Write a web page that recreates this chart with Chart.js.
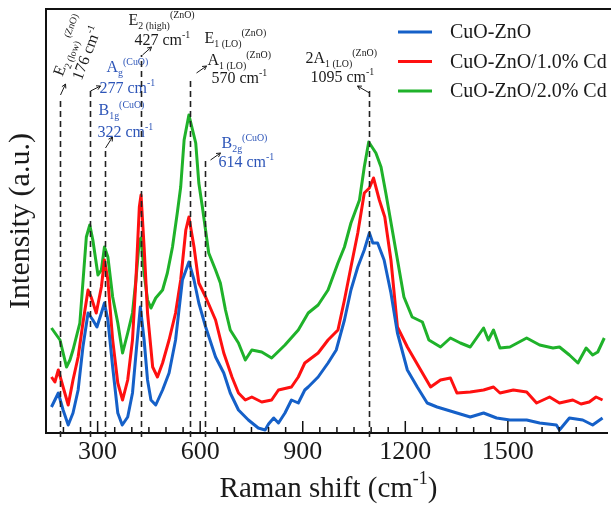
<!DOCTYPE html>
<html>
<head>
<meta charset="utf-8">
<script src="https://cdn.jsdelivr.net/npm/chart.js@4.4.1/dist/chart.umd.min.js"></script>
<style>html,body{margin:0;padding:0;background:#fff;overflow:hidden}canvas{display:block}</style>
</head>
<body>
<canvas id="c" width="611" height="507"></canvas>
<script>
// Raman spectra (x: Raman shift cm-1, y: intensity a.u.)
const seriesNames=["CuO-ZnO","CuO-ZnO/1.0% Cd","CuO-ZnO/2.0% Cd"];
const shiftBlue=[165,185,199,214,228,243,257,272,286,298,311,320,330,344,359,372,388,402,414,425,436,446,456,470,490,509,528,548,567,582,596,616,645,669,688,712,741,770,790,800,815,829,848,867,887,906,916,945,974,998,1022,1041,1061,1080,1095,1105,1119,1138,1158,1177,1206,1235,1264,1293,1322,1351,1390,1429,1467,1506,1555,1593,1642,1651,1680,1719,1748,1777];
const intBlue=[26,40,23,8,20,43,86,120,113,106,120,130,113,66,20,8,16,40,86,126,93,53,33,28,43,60,93,153,171,153,130,106,76,60,40,23,13,5,3,9,15,10,20,33,30,43,46,56,70,83,113,143,166,183,200,190,190,173,140,100,63,46,30,26,23,20,16,20,15,13,13,10,8,3,15,13,8,15];
const shiftRed=[165,175,185,199,214,228,243,257,272,281,296,311,320,330,344,359,373,388,402,412,422,427,436,446,461,475,490,509,528,543,558,567,582,596,616,645,669,693,712,732,751,780,809,829,867,887,906,945,974,1003,1022,1041,1061,1080,1095,1107,1124,1140,1158,1177,1206,1245,1274,1303,1332,1351,1390,1429,1458,1477,1516,1555,1584,1622,1651,1690,1714,1738,1758,1777];
const intRed=[56,51,63,46,28,53,76,110,143,136,120,146,173,153,93,50,33,53,93,153,226,238,186,120,66,56,70,93,120,153,203,216,186,150,136,113,80,56,40,33,36,31,33,43,46,56,70,80,93,103,133,166,200,240,245,255,233,216,173,106,86,63,46,53,55,40,41,43,46,40,43,41,30,36,30,33,29,31,36,33];
const shiftGreen=[165,190,209,219,228,248,267,277,286,301,311,320,330,344,359,373,388,402,412,422,427,436,446,456,470,490,504,519,533,543,553,567,587,596,606,625,645,659,674,688,712,732,751,780,809,848,887,916,945,974,1003,1022,1041,1066,1080,1093,1114,1129,1143,1167,1196,1220,1250,1269,1303,1332,1361,1390,1429,1443,1458,1477,1506,1555,1593,1632,1651,1680,1705,1729,1748,1763,1782];
const intGreen=[105,93,66,73,83,110,196,208,193,158,163,186,176,136,110,80,100,120,153,193,195,160,133,125,135,143,160,186,220,246,293,318,290,250,227,180,163,150,123,103,90,73,83,81,75,88,103,120,128,143,170,186,210,233,266,291,280,266,240,193,136,116,111,93,86,95,90,86,105,93,103,85,86,95,88,85,86,78,70,85,78,81,95];
const xTickLabels=[300,600,900,1200,1500];
// dashed marker lines: where they sit on the axis, and the band they label
const markPos=[191,277,322,427,570,614,1095];
const markName=["176","277","322","427","570","614","1095"];

const FONT='"Times New Roman","Liberation Serif",serif';
const BLUE_TXT="#2d55b8", INK="#1a1a1a";
const pts=(xs,ys)=>xs.map((x,i)=>({x,y:ys[i]}));

function rich(ctx,x,y,parts,size,color){
  let cx=x; ctx.fillStyle=color; ctx.textBaseline="alphabetic"; ctx.textAlign="left";
  for(const [t,k] of parts){
    const s=k?size*0.62:size; ctx.font=`${s}px ${FONT}`;
    const dy=k==="b"?size*0.28:k==="p"?-size*0.45:0;
    ctx.fillText(t,cx,y+dy); cx+=ctx.measureText(t).width;
  }
  return cx;
}
function arrow(ctx,x0,y0,x1,y1){
  ctx.save(); ctx.strokeStyle=INK; ctx.lineWidth=1; ctx.setLineDash([]);
  ctx.beginPath(); ctx.moveTo(x0,y0); ctx.lineTo(x1,y1); ctx.stroke();
  const a=Math.atan2(y1-y0,x1-x0), h=4.5;
  ctx.beginPath(); ctx.moveTo(x1-h*Math.cos(a-0.5),y1-h*Math.sin(a-0.5)); ctx.lineTo(x1,y1);
  ctx.lineTo(x1-h*Math.cos(a+0.5),y1-h*Math.sin(a+0.5)); ctx.stroke(); ctx.restore();
}
const cm=n=>[[n+" cm"],["-1","p"]];
// label layout per marker: dx from the marker line, baseline y, line top, arrow
const notes=[
  {top:97, arr:[0,95,5,84], rot:-69, lines:[{dx:2,y:77,c:INK,p:[["E"],["2 (low)","b"],["(ZnO)","p"]]},{dx:21,y:81,c:INK,p:cm(markName[0])}]},
  {top:89, arr:[0,91,10,86], lines:[{dx:16,y:72,c:BLUE_TXT,p:[["A"],["g","b"],["(CuO)","p"]]},{dx:9,y:93,c:BLUE_TXT,p:cm(markName[1])}]},
  {top:149, arr:[0,148,7,137], lines:[{dx:-7,y:115,c:BLUE_TXT,p:[["B"],["1g","b"],["(CuO)","p"]]},{dx:-8,y:137,c:BLUE_TXT,p:cm(markName[2])}]},
  {top:55, arr:[1,55,10,47], lines:[{dx:-13,y:25,c:INK,p:[["E"],["2 (high)","b"],["(ZnO)","p"]]},{dx:-7,y:45,c:INK,p:cm(markName[3])}]},
  {top:80, arr:[6,73,16,66], lines:[{dx:14,y:43,c:INK,p:[["E"],["1 (LO)","b"],["(ZnO)","p"]]},{dx:17,y:65,c:INK,p:[["A"],["1 (LO)","b"],["(ZnO)","p"]]},{dx:21,y:83,c:INK,p:cm(markName[4])}]},
  {top:160, arr:[5,160,15,153], lines:[{dx:16,y:148,c:BLUE_TXT,p:[["B"],["2g","b"],["(CuO)","p"]]},{dx:13,y:167,c:BLUE_TXT,p:cm(markName[5])}]},
  {top:90, arr:[0,93,-12,86], lines:[{dx:-64,y:63,c:INK,p:[["2A"],["1 (LO)","b"],["(ZnO)","p"]]},{dx:-59,y:82,c:INK,p:cm(markName[6])}]}
];

const decor={id:"decor",
  afterDatasetsDraw(chart){
    const {ctx,chartArea:a,scales:{x}}=chart;
    ctx.save();
    // frame top
    ctx.strokeStyle="#111"; ctx.lineWidth=2; ctx.beginPath(); ctx.moveTo(a.left,a.top); ctx.lineTo(chart.width,a.top); ctx.stroke();
    // inward ticks
    ctx.lineWidth=1.5;
    x.ticks.forEach(t=>{ if(t.value%50) return; const px=x.getPixelForValue(t.value);
      const L=xTickLabels.includes(t.value)?12:6; ctx.beginPath(); ctx.moveTo(px,a.bottom); ctx.lineTo(px,a.bottom-L); ctx.stroke(); });
    // dashed marker lines + labels
    markPos.forEach((v,i)=>{
      const mx=Math.round(x.getPixelForValue(v))+0.5, n=notes[i];
      ctx.save(); ctx.strokeStyle="#222"; ctx.lineWidth=1.6; ctx.setLineDash([6,4]);
      ctx.beginPath(); ctx.moveTo(mx,a.bottom+4); ctx.lineTo(mx,n.top); ctx.stroke(); ctx.restore();
      arrow(ctx,mx+n.arr[0],n.arr[1],mx+n.arr[2],n.arr[3]);
      n.lines.forEach(l=>{
        if(n.rot){ ctx.save(); ctx.translate(mx+l.dx,l.y); ctx.rotate(n.rot*Math.PI/180); rich(ctx,0,0,l.p,16,l.c); ctx.restore(); }
        else rich(ctx,mx+l.dx,l.y,l.p,16,l.c);
      });
    });
    // legend
    chart.data.datasets.forEach((d,i)=>{
      const y=32+i*29.5;
      ctx.strokeStyle=d.borderColor; ctx.lineWidth=3; ctx.beginPath(); ctx.moveTo(398,y); ctx.lineTo(432,y); ctx.stroke();
      ctx.fillStyle=INK; ctx.font=`20px ${FONT}`; ctx.textBaseline="middle"; ctx.textAlign="left"; ctx.fillText(d.label,450,y+1);
    });
    // axis titles
    ctx.fillStyle=INK;
    const xt=[["Raman shift (cm"],["-1","p"],[")"]];
    let w=0; xt.forEach(([t,k])=>{ctx.font=`${k?29*0.62:29}px ${FONT}`; w+=ctx.measureText(t).width;});
    rich(ctx,(a.left+a.right)/2+2-w/2,497,xt,29,INK);
    ctx.save(); ctx.translate(29,221); ctx.rotate(-Math.PI/2); ctx.font=`30px ${FONT}`; ctx.textAlign="center"; ctx.textBaseline="alphabetic";
    ctx.fillText("Intensity (a.u.)",0,0); ctx.restore();
    ctx.restore();
  }};

new Chart(document.getElementById("c"),{
  type:"line",
  data:{datasets:[
    {label:seriesNames[0],data:pts(shiftBlue,intBlue),borderColor:"#1560c8"},
    {label:seriesNames[1],data:pts(shiftRed,intRed),borderColor:"#ff1010"},
    {label:seriesNames[2],data:pts(shiftGreen,intGreen),borderColor:"#1fb22a"}
  ]},
  options:{responsive:false,animation:false,devicePixelRatio:1,
    layout:{padding:{top:9,right:0,left:0,bottom:0}},
    elements:{line:{borderWidth:3,tension:0,borderJoinStyle:"round"},point:{radius:0}},
    plugins:{legend:{display:false},tooltip:{enabled:false}},
    scales:{
      x:{type:"linear",min:149,max:1790,
        afterFit(s){s.height=74;},
        grid:{display:false,drawTicks:false},
        border:{display:true,color:"#111",width:2},
        ticks:{stepSize:50,autoSkip:false,maxRotation:0,padding:4,color:INK,font:{family:FONT,size:26},
          callback:v=>xTickLabels.includes(v)?String(v):""}},
      y:{min:0,max:424,
        afterFit(s){s.width=46;},
        grid:{display:false,drawTicks:false},
        border:{display:true,color:"#111",width:2},
        ticks:{display:false}}
    }
  },
  plugins:[decor]
});
</script>
</body>
</html>
